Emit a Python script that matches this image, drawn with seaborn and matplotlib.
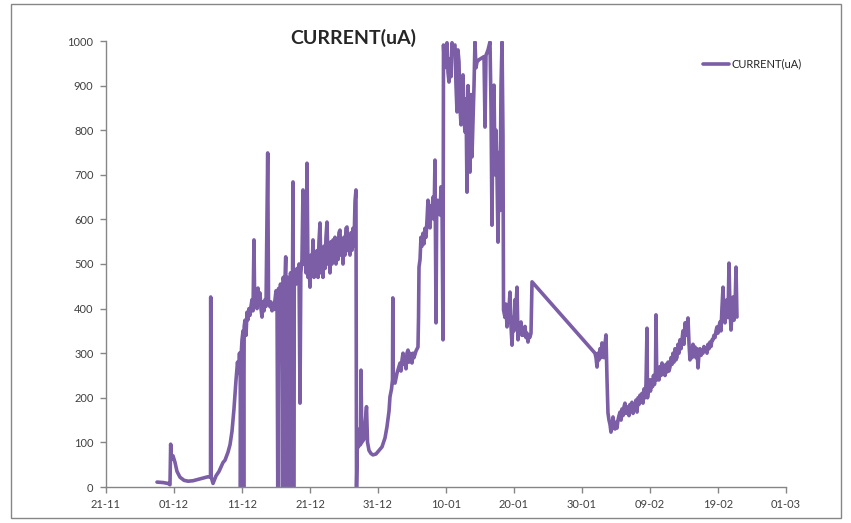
import pandas as pd
import seaborn as sns
import matplotlib.dates as mdates
from matplotlib import pyplot as plt
from matplotlib.patches import Rectangle

START = pd.Timestamp('2012-11-21')
PURPLE = '#7B5EA6'
GREY = '#868686'

# days after 21-11 and current readings, split by period
ramp_days = [7.50, 8.38, 9.12, 9.41, 9.51, 9.63, 9.85, 10.15, 10.44, 10.88,
             11.47, 12.06, 12.79, 13.53, 14.26, 15.00, 15.37, 15.40, 15.47,
             15.74, 16.18, 16.62, 16.91, 17.21, 17.50, 17.94, 18.24, 18.53,
             18.82, 19.12, 19.34, 19.49, 19.63, 19.74, 19.78, 19.85, 20.00,
             20.15, 20.24, 20.32]
ramp_vals = [11, 10, 8, 5, 96, 62, 70, 55, 35, 22,
             15, 13, 14, 17, 20, 23, 22, 426, 22,
             8, 25, 35, 45, 55, 60, 78, 95, 125,
             175, 240, 280, 255, 300, 260, 0, 290, 330,
             350, 0, 360]

dec_days = [20.44, 20.59, 20.74, 20.88, 21.03, 21.18, 21.32, 21.47, 21.62,
            21.76, 21.87, 22.06, 22.21, 22.35, 22.50, 22.65, 22.79, 22.94,
            23.09, 23.24, 23.38, 23.53, 23.78, 23.90, 24.12, 24.26, 24.41,
            24.56, 24.71, 24.85, 25.00, 25.15, 25.26, 25.37, 25.51, 25.66,
            25.81, 25.96, 26.07, 26.18, 26.32, 26.43, 26.54, 26.66, 26.76,
            26.91, 27.03, 27.13, 27.26, 27.43, 27.50, 27.59, 27.69, 27.79,
            27.94, 28.09, 28.24, 28.38, 28.53, 28.65, 28.82, 28.97, 29.12,
            29.26, 29.41, 29.56, 29.71, 29.85, 30.00, 30.15, 30.29, 30.44,
            30.59, 30.74, 30.88, 31.03, 31.18, 31.32, 31.47, 31.62, 31.76,
            31.91, 32.06, 32.21, 32.35, 32.50, 32.65, 32.79, 32.94, 33.09,
            33.24, 33.38, 33.53, 33.68, 33.82, 33.97, 34.12, 34.26, 34.41,
            34.56, 34.71, 34.85, 35.00, 35.15, 35.29, 35.44, 35.59, 35.74,
            35.88, 36.03, 36.18, 36.32, 36.47, 36.62, 36.76, 36.84]
dec_vals = [374, 340, 392, 375, 400, 385, 405, 420, 395,
            554, 410, 430, 400, 446, 420, 435, 400, 381,
            415, 395, 420, 405, 749, 420, 404, 415, 395,
            410, 398, 420, 440, 425, 0, 445, 420, 455,
            430, 0, 470, 440, 460, 516, 0, 450, 470,
            440, 0, 480, 455, 470, 684, 0, 465, 480,
            455, 490, 470, 500, 188, 480, 510, 666, 500,
            540, 480, 726, 470, 500, 448, 520, 480, 554,
            470, 510, 490, 530, 470, 550, 592, 480, 520,
            470, 540, 490, 560, 594, 500, 530, 480, 550,
            500, 554, 510, 560, 500, 540, 510, 570, 576,
            520, 550, 500, 560, 520, 580, 583, 530, 560,
            520, 570, 531, 580, 540, 640, 666, 0]

newyear_days = [36.99, 37.13, 37.28, 37.43, 37.50, 37.62, 37.72, 37.87,
                38.09, 38.31, 38.46, 38.68, 38.97, 39.26, 39.71, 40.15,
                40.59, 41.03, 41.32, 41.62, 41.76, 41.99, 42.13, 42.18,
                42.25, 42.50, 42.79, 43.09, 43.24, 43.38, 43.53, 43.68,
                43.82, 43.97, 44.12, 44.26, 44.41, 44.56, 44.71, 44.85,
                45.00, 45.15, 45.29, 45.59, 45.88, 45.96, 46.03, 46.18,
                46.32, 46.47, 46.62, 46.76, 46.91, 47.06, 47.21, 47.35,
                47.50, 47.65, 47.79, 47.94, 48.09, 48.24, 48.38, 48.53,
                48.63, 48.75, 48.90, 49.12, 49.26, 49.41, 49.56]
newyear_vals = [112, 90, 130, 95, 262, 100, 121, 105,
                140, 180, 100, 82, 75, 72, 74, 82,
                90, 110, 135, 170, 202, 220, 240, 424,
                235, 233, 255, 270, 278, 260, 285, 300,
                275, 290, 265, 300, 307, 280, 300, 290,
                278, 300, 290, 305, 314, 380, 493, 510,
                560, 540, 569, 545, 580, 560, 600, 643,
                610, 581, 630, 621, 650, 600, 733, 368,
                620, 643, 632, 610, 673, 640, 330]

jan_days = [49.63, 49.78, 49.93, 50.15, 50.29, 50.44, 50.59, 50.74, 50.88,
            51.03, 51.18, 51.32, 51.47, 51.62, 51.76, 51.91, 52.06, 52.21,
            52.35, 52.50, 52.65, 52.79, 52.94, 53.09, 53.24, 53.38, 53.53,
            53.68, 53.82, 53.97, 54.12, 54.26, 54.41, 54.56, 54.85, 55.59,
            55.74, 55.88, 56.18, 56.47, 56.62, 56.76, 56.91, 57.06, 57.21,
            57.35, 57.50, 57.65, 57.79, 57.94, 58.09, 58.24, 58.38, 58.46,
            58.68, 58.82, 58.97, 59.12, 59.26, 59.41, 59.56, 59.71, 59.85,
            60.00, 60.15, 60.29, 60.44, 60.59, 60.74, 60.88, 61.03, 61.18,
            61.32, 61.47, 61.62, 61.76, 61.91, 62.06, 62.21, 62.35, 62.50,
            62.65]
jan_vals = [991, 940, 980, 996, 930, 908, 960, 920, 996,
            980, 990, 991, 900, 841, 980, 953, 850, 812,
            900, 924, 830, 796, 870, 661, 900, 760, 706,
            880, 740, 820, 900, 998, 940, 953, 958, 965,
            807, 968, 980, 998, 850, 587, 850, 901, 700,
            800, 700, 549, 750, 620, 900, 998, 789, 397,
            380, 410, 359, 380, 400, 437, 360, 318, 380,
            350, 420, 400, 448, 330, 360, 345, 370, 340,
            352, 340, 360, 335, 345, 325, 340, 336, 345,
            460]

feb_days = [71.91, 72.06, 72.21, 72.35, 72.50, 72.65, 72.79, 72.94, 73.09,
            73.24, 73.38, 73.53, 73.68, 73.82, 73.97, 74.12, 74.26, 74.41,
            74.56, 74.71, 74.85, 75.00, 75.15, 75.29, 75.44, 75.59, 75.74,
            75.88, 76.03, 76.18, 76.32, 76.47, 76.62, 76.76, 76.91, 77.06,
            77.21, 77.35, 77.50, 77.65, 77.79, 77.94, 78.09, 78.24, 78.38,
            78.53, 78.68, 78.82, 78.97, 79.12, 79.26, 79.41, 79.56, 79.63,
            79.78, 79.93, 80.07, 80.22, 80.37, 80.51, 80.66, 80.81, 80.88,
            81.00, 81.18, 81.32, 81.47, 81.62, 81.76, 81.91, 82.06, 82.21,
            82.35, 82.50, 82.65, 82.79, 82.94, 83.09, 83.24, 83.38, 83.53,
            83.68, 83.82, 83.97, 84.12, 84.26, 84.41, 84.56, 84.71, 84.85,
            85.00, 85.15, 85.29, 85.44, 85.59, 85.74, 85.88, 86.03, 86.18,
            86.32, 86.47, 86.62, 86.76, 86.91, 87.06, 87.21, 87.35, 87.50,
            87.65, 87.79, 87.94, 88.09, 88.24, 88.38, 88.53, 88.68, 88.82,
            88.97, 89.12, 89.26, 89.41, 89.56, 89.71, 89.85, 90.00, 90.15,
            90.29, 90.44, 90.59, 90.74, 90.88, 91.03, 91.18, 91.32, 91.47,
            91.62, 91.76, 91.91, 92.06, 92.21, 92.35, 92.50, 92.65, 92.79]
feb_vals = [300, 290, 269, 300, 285, 310, 290, 323, 300,
            290, 320, 341, 240, 166, 150, 140, 123, 135,
            157, 140, 130, 145, 132, 150, 160, 168, 150,
            175, 160, 180, 188, 165, 180, 173, 160, 185,
            170, 190, 165, 180, 175, 195, 168, 200, 185,
            206, 190, 210, 188, 220, 200, 230, 356, 200,
            220, 240, 215, 240, 225, 250, 230, 260, 386,
            240, 255, 240, 270, 250, 278, 255, 270, 250,
            275, 258, 280, 260, 269, 290, 275, 300, 280,
            310, 285, 291, 320, 300, 330, 310, 330, 350,
            320, 368, 340, 360, 379, 320, 285, 310, 290,
            320, 295, 314, 290, 310, 267, 300, 310, 295,
            307, 300, 315, 305, 310, 300, 320, 310, 325,
            315, 330, 330, 340, 335, 350, 359, 345, 360,
            370, 350, 404, 448, 380, 368, 400, 420, 380,
            502, 400, 352, 390, 426, 374, 400, 493, 381]

days = ramp_days + dec_days + newyear_days + jan_days + feb_days
vals = ramp_vals + dec_vals + newyear_vals + jan_vals + feb_vals
df = pd.DataFrame({'time': START + pd.to_timedelta(days, unit='D'),
                   'CURRENT(uA)': vals})

sns.set_style('white')
plt.rcParams['font.family'] = ['Lato', 'DejaVu Sans']

fig = plt.figure(figsize=(8.51, 5.23), dpi=100)
ax = fig.add_axes([106 / 851, 36 / 523, 680 / 851, 446 / 523])
sns.lineplot(data=df, x='time', y='CURRENT(uA)', ax=ax, color=PURPLE,
             linewidth=2.6, estimator=None, sort=False, label='CURRENT(uA)')

ax.set_xlim(START, START + pd.Timedelta(days=100))
ax.set_xticks([START + pd.Timedelta(days=10 * i) for i in range(11)])
ax.xaxis.set_major_formatter(mdates.DateFormatter('%d-%m'))
ax.set_ylim(0, 1000)
ax.set_yticks(range(0, 1001, 100))
ax.set_xlabel('')
ax.set_ylabel('')
for side in ['top', 'right']:
    ax.spines[side].set_visible(False)
for side in ['left', 'bottom']:
    ax.spines[side].set_color(GREY)
    ax.spines[side].set_linewidth(1)
ax.tick_params(direction='out', length=4, width=1, color=GREY,
               labelsize=8, labelcolor='#404040', pad=5,
               left=True, bottom=True)

fig.text(353 / 851, 1 - 38 / 523, 'CURRENT(uA)', ha='center', va='center',
         fontsize=14, fontweight='bold')
ax.legend(loc='center left', bbox_to_anchor=(703 / 851, 1 - 64 / 523),
          bbox_transform=fig.transFigure, frameon=False, fontsize=8,
          handlelength=2.3, handletextpad=0.3, borderpad=0, borderaxespad=0)

fig.patches.append(Rectangle((11 / 851, 5 / 523), 830 / 851, 514 / 523,
                             transform=fig.transFigure, fill=False,
                             edgecolor=GREY, linewidth=1))
plt.savefig('out.png', dpi=100)
